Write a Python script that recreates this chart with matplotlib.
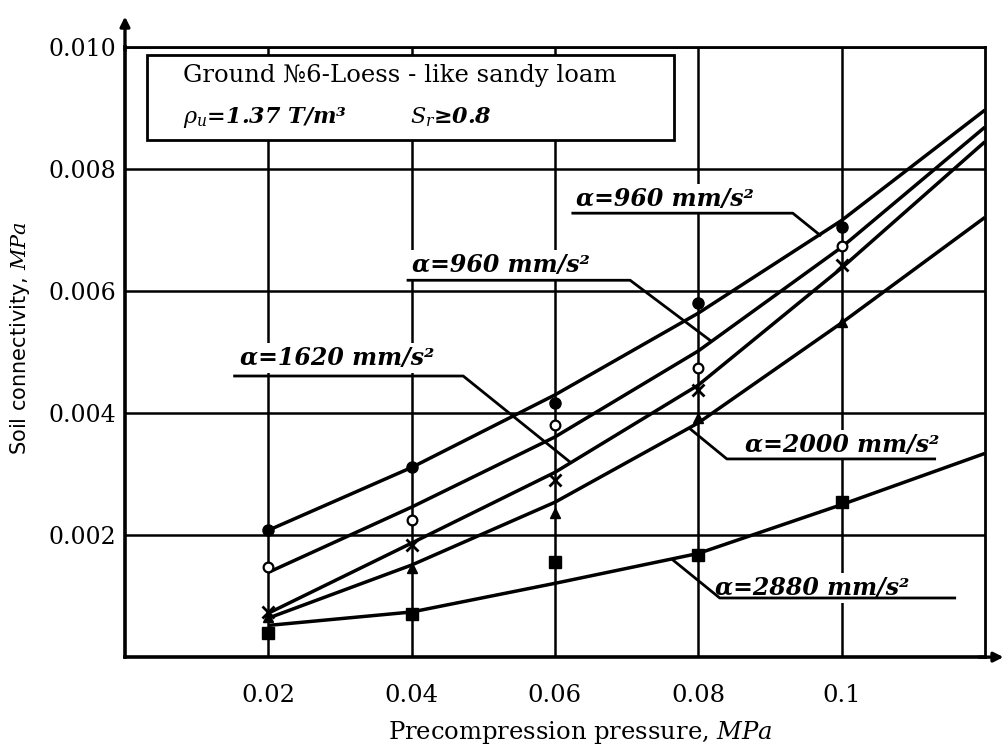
import numpy as np
import matplotlib.pyplot as plt
from matplotlib.patches import Rectangle

plt.rcParams['mathtext.fontset'] = 'dejavuserif'

# fitted curves
x_curve = [0.02, 0.04, 0.06, 0.08, 0.10, 0.12]
curve_a = [0.00208, 0.00311, 0.00430, 0.00564, 0.00716, 0.00897]
curve_b = [0.00139, 0.00246, 0.00361, 0.00502, 0.00672, 0.00869]
curve_c = [0.00072, 0.00187, 0.00303, 0.00446, 0.00638, 0.00845]
curve_d = [0.00064, 0.00151, 0.00254, 0.00384, 0.00548, 0.00721]
curve_e = [0.00052, 0.00074, 0.00121, 0.00170, 0.00250, 0.00334]

# measured points
x_pts = [0.02, 0.04, 0.06, 0.08, 0.10]
pts_dot = [0.00208, 0.00311, 0.00416, 0.00580, 0.00705]
pts_ring = [0.00148, 0.00225, 0.00380, 0.00474, 0.00675]
pts_cross = [0.00074, 0.00184, 0.00290, 0.00438, 0.00643]
pts_tri = [0.00066, 0.00146, 0.00236, 0.00392, 0.00549]
pts_sq = [0.00039, 0.00070, 0.00156, 0.00167, 0.00254]

x_ticks = [0.02, 0.04, 0.06, 0.08, 0.1]
x_ticklabels = ['0.02', '0.04', '0.06', '0.08', '0.1']
y_ticks = [0.002, 0.004, 0.006, 0.008, 0.010]
y_ticklabels = ['0.002', '0.004', '0.006', '0.008', '0.010']

serif = 'DejaVu Serif'

fig = plt.figure(figsize=(10.08, 7.51), dpi=100)
ax = fig.add_axes([0.124, 0.125, 0.853, 0.812])
ax.set_xlim(0, 0.12)
ax.set_ylim(0, 0.010)

# grid drawn by hand (solid, heavy, like the paper chart)
ax.vlines(x_ticks, 0, 0.010, color='k', lw=1.8, zorder=1)
ax.hlines(y_ticks, 0, 0.12, color='k', lw=1.8, zorder=1)

for s in ax.spines.values():
    s.set_linewidth(2.0)
ax.spines['left'].set_linewidth(2.6)
ax.spines['bottom'].set_linewidth(2.6)

ax.set_xticks(x_ticks)
ax.set_xticklabels(x_ticklabels, fontsize=17.5, family=serif)
ax.set_yticks(y_ticks)
ax.set_yticklabels(y_ticklabels, fontsize=17, family=serif)
ax.tick_params(axis='x', length=0, pad=19)
ax.tick_params(axis='y', length=0, pad=6)

# axis arrows
ax.annotate('', xy=(0, 1.055), xytext=(0, 0.99), xycoords='axes fraction',
            arrowprops=dict(arrowstyle='-|>', lw=2.4, color='k', mutation_scale=14))
ax.annotate('', xy=(1.025, 0), xytext=(0.99, 0), xycoords='axes fraction',
            arrowprops=dict(arrowstyle='-|>', lw=2.4, color='k', mutation_scale=14))

# curves
for yy in [curve_a, curve_b, curve_c, curve_d, curve_e]:
    ax.plot(x_curve, yy, color='k', lw=2.5, zorder=4, solid_capstyle='butt')

# points
ax.plot(x_pts, pts_dot, 'o', color='k', ms=8, zorder=5)
ax.plot(x_pts, pts_ring, 'o', mfc='white', mec='k', mew=1.6, ms=7, zorder=5)
ax.plot(x_pts, pts_cross, 'x', color='k', mew=2, ms=9, zorder=5)
ax.plot(x_pts, pts_tri, '^', color='k', ms=7, zorder=5)
ax.plot(x_pts, pts_sq, 's', color='k', ms=8, zorder=5)

# labels with leader lines
labels = [
    ('α=960 mm/s²', 0.0630, 0.00752, [0.0625, 0.0932, 0.0970], [0.00728, 0.00728, 0.00692]),
    ('α=960 mm/s²', 0.0400, 0.00643, [0.0395, 0.0705, 0.0816], [0.00618, 0.00618, 0.00520]),
    ('α=1620 mm/s²', 0.0160, 0.00490, [0.0153, 0.0472, 0.0621], [0.00461, 0.00461, 0.00320]),
    ('α=2000 mm/s²', 0.0865, 0.00348, [0.0788, 0.0840, 0.1130], [0.00375, 0.00325, 0.00325]),
    ('α=2880 mm/s²', 0.0823, 0.00113, [0.0765, 0.0830, 0.1158], [0.00159, 0.00097, 0.00097]),
]
for txt, tx, ty, lx, ly in labels:
    ax.text(tx, ty, txt, fontsize=17, family=serif, style='italic', weight='bold',
            va='center', ha='left', zorder=3,
            bbox=dict(facecolor='white', edgecolor='none', pad=2))
    ax.plot(lx, ly, color='k', lw=2.0, zorder=3)

# info box
ax.add_patch(Rectangle((0.0031, 0.00848), 0.0735, 0.00139, facecolor='white',
                       edgecolor='k', lw=2.0, zorder=3))
ax.text(0.0081, 0.00954, 'Ground №6-Loess - like sandy loam', fontsize=17.5, family=serif,
        va='center', ha='left', zorder=4)
ax.text(0.0081, 0.00885, r'$\rho_u$=1.37 T/m³', fontsize=16, family=serif, style='italic',
        weight='bold', va='center', ha='left', zorder=4)
ax.text(0.0398, 0.00885, r'$S_r$≥0.8', fontsize=16, family=serif, style='italic',
        weight='bold', va='center', ha='left', zorder=4)

fig.text(0.576, 0.025, 'Precompression pressure, $MPa$', fontsize=17.5, family=serif,
         ha='center', va='center')
fig.text(0.02, 0.55, 'Soil connectivity, $MPa$', fontsize=15,
         family=['Liberation Sans Narrow', 'DejaVu Sans'], rotation=90,
         ha='center', va='center')

plt.savefig('out.png', dpi=100)
